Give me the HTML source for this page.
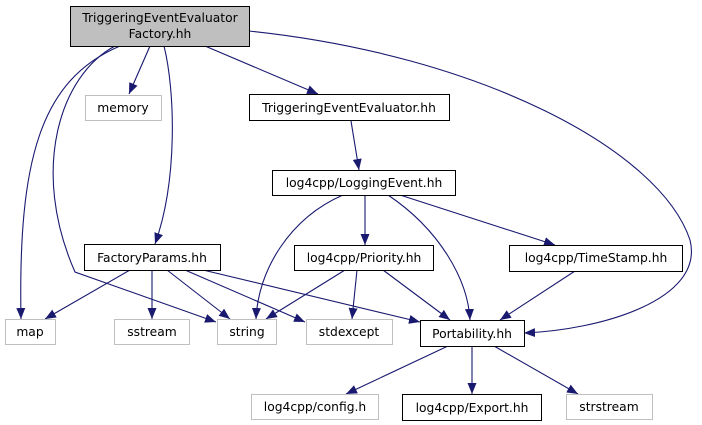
<!DOCTYPE html>
<html><head><meta charset="utf-8"><style>
html,body{margin:0;padding:0;background:#fff;width:702px;height:425px;overflow:hidden}
svg text{font-family:"DejaVu Sans","Liberation Sans",sans-serif;font-size:12.3px;fill:#000;text-anchor:middle}
</style></head><body>
<svg width="702" height="425" viewBox="0 0 702 425" xmlns="http://www.w3.org/2000/svg">
<defs>
<marker id="a" markerWidth="11" markerHeight="9" refX="11" refY="4.5" orient="auto" markerUnits="userSpaceOnUse">
<path d="M0,0 L11,4.5 L0,9 z" fill="#191970"/>
</marker>
</defs>
<g fill="none" stroke="#191970" stroke-width="1.1" marker-end="url(#a)">
<path d="M150,46 L129,94"/>
<path d="M205,46 L318,94"/>
<path d="M164,46 C175,90 178,180 155,244"/>
<path d="M120,46 C40,80 18,160 21,319"/>
<path d="M115,46 C60,75 30,170 75,272 L216,322"/>
<path d="M249,31 C480,55 660,150 690,240 C705,300 600,330 524,333"/>
<path d="M351,121 L359,170"/>
<path d="M343,195 C290,218 258,270 256,319"/>
<path d="M365,195 L365,245"/>
<path d="M388,195 C440,230 468,280 470,320"/>
<path d="M400,195 L555,245"/>
<path d="M130,270 L45,319"/>
<path d="M152,270 L152,319"/>
<path d="M167,270 L230,319"/>
<path d="M185,270 L305,322"/>
<path d="M203,270 L420,322"/>
<path d="M345,270 L266,319"/>
<path d="M357,270 L352,319"/>
<path d="M383,270 L450,320"/>
<path d="M575,271 L500,320"/>
<path d="M448,346 L346,394"/>
<path d="M472,346 L472,394"/>
<path d="M494,346 L578,394"/>
</g>
<g stroke-width="1">
<rect x="70.5" y="6.5" width="179" height="40" fill="#bfbfbf" stroke="#000"/>
<rect x="85.5" y="95.5" width="76" height="25" fill="#fff" stroke="#bfbfbf"/>
<rect x="249.5" y="94.5" width="200" height="26" fill="#fff" stroke="#000"/>
<rect x="272.5" y="170.5" width="183" height="25" fill="#fff" stroke="#000"/>
<rect x="84.5" y="244.5" width="136" height="26" fill="#fff" stroke="#000"/>
<rect x="294.5" y="245.5" width="139" height="25" fill="#fff" stroke="#000"/>
<rect x="509.5" y="245.5" width="173" height="26" fill="#fff" stroke="#000"/>
<rect x="5.5" y="319.5" width="50" height="25" fill="#fff" stroke="#bfbfbf"/>
<rect x="114.5" y="319.5" width="75" height="25" fill="#fff" stroke="#bfbfbf"/>
<rect x="217.5" y="319.5" width="59" height="25" fill="#fff" stroke="#bfbfbf"/>
<rect x="306.5" y="319.5" width="86" height="25" fill="#fff" stroke="#bfbfbf"/>
<rect x="420.5" y="320.5" width="104" height="26" fill="#fff" stroke="#000"/>
<rect x="251.5" y="394.5" width="127" height="25" fill="#fff" stroke="#bfbfbf"/>
<rect x="402.5" y="394.5" width="139" height="26" fill="#fff" stroke="#000"/>
<rect x="566.5" y="394.5" width="86" height="25" fill="#fff" stroke="#bfbfbf"/>
</g>
<text x="160" y="22">TriggeringEventEvaluator</text>
<text x="160" y="38">Factory.hh</text>
<text x="123" y="112">memory</text>
<text x="349" y="112">TriggeringEventEvaluator.hh</text>
<text x="364" y="187">log4cpp/LoggingEvent.hh</text>
<text x="152" y="262">FactoryParams.hh</text>
<text x="364" y="262">log4cpp/Priority.hh</text>
<text x="596" y="262">log4cpp/TimeStamp.hh</text>
<text x="30" y="336">map</text>
<text x="152" y="336">sstream</text>
<text x="247" y="336">string</text>
<text x="349" y="336">stdexcept</text>
<text x="472" y="338">Portability.hh</text>
<text x="315" y="411">log4cpp/config.h</text>
<text x="472" y="412">log4cpp/Export.hh</text>
<text x="609" y="411">strstream</text>
</svg>
</body></html>
